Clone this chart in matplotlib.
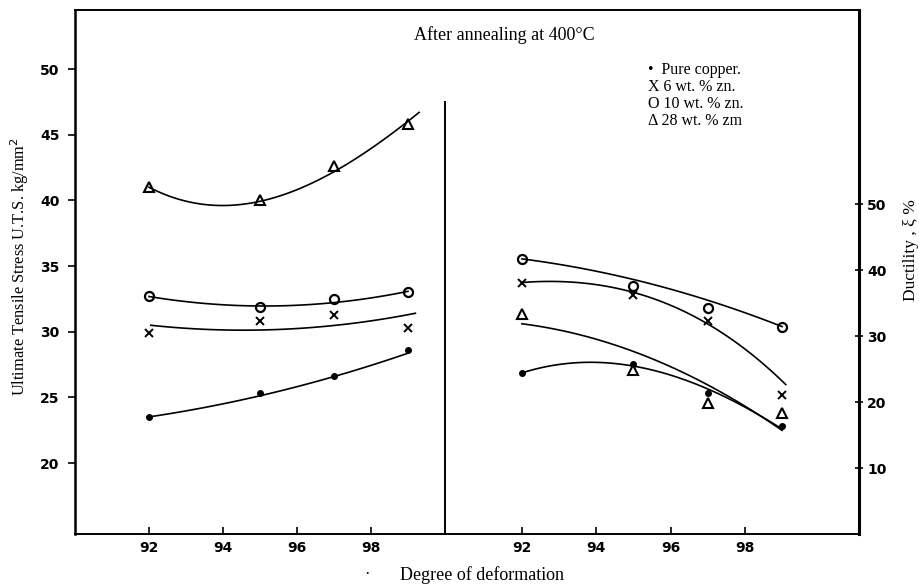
import numpy as np
import matplotlib
matplotlib.use("Agg")
import matplotlib.pyplot as plt

plt.rcParams['font.family'] = ['Liberation Serif', 'DejaVu Serif']

# left panel: U.T.S. (kg/mm^2) vs degree of deformation
deform = [92, 95, 97, 99]
uts_cu = [23.5, 25.3, 26.6, 28.6]
uts_zn6 = [29.9, 30.8, 31.3, 30.3]
uts_zn10 = [32.7, 31.9, 32.5, 33.05]
uts_zn28 = [41.0, 40.0, 42.6, 45.8]

# hand drawn fit lines
uts_fit_cu_x = [92, 95, 97, 99]
uts_fit_cu_y = [23.5, 25.2, 26.5, 28.4]
uts_fit_zn6_x = [92.05, 94.5, 97, 99.2]
uts_fit_zn6_y = [30.5, 30.1, 30.5, 31.4]
uts_fit_zn10_x = [92, 94, 95, 97, 99]
uts_fit_zn10_y = [32.7, 32.05, 31.9, 32.3, 33.05]
uts_fit_zn28_x = [92, 93.8, 95, 97, 99.3]
uts_fit_zn28_y = [41.0, 39.65, 39.9, 42.2, 46.7]

# right panel: ductility (%)
duc_cu = [24.4, 25.8, 21.3, 16.4]
duc_zn6 = [38.0, 36.2, 32.2, 21.1]
duc_zn10 = [41.7, 37.6, 34.2, 31.4]
duc_zn28 = [33.4, 24.8, 19.8, 18.3]

duc_fit_cu_x = [92, 93.5, 95, 97, 99]
duc_fit_cu_y = [24.4, 26.0, 25.4, 22.0, 15.9]
duc_fit_zn6_x = [92, 93.2, 95, 97, 99.1]
duc_fit_zn6_y = [38.0, 38.5, 36.3, 32.0, 22.6]
duc_fit_zn10_x = [92, 95, 97, 99]
duc_fit_zn10_y = [41.7, 38.5, 35.5, 31.4]
duc_fit_zn28_x = [92, 95, 97, 99]
duc_fit_zn28_y = [31.8, 27.9, 22.3, 15.8]

x_ticks = [92, 94, 96, 98]
uts_ticks = [20, 25, 30, 35, 40, 45, 50]
duc_ticks = [10, 20, 30, 40, 50]

legend_lines = ["\u2022  Pure copper.", "X 6 wt. % zn.", "O 10 wt. % zn.", "\u0394 28 wt. % zm"]


def smooth(ax, xs, ys, deg):
    c = np.polyfit(xs, ys, deg)
    xx = np.linspace(xs[0], xs[-1], 100)
    ax.plot(xx, np.polyval(c, xx), color='black', lw=1.2)


def marks(ax, x, cu, z6, z10, z28):
    ax.plot(x, cu, 'o', color='black', ms=4, clip_on=False)
    ax.plot(x, z6, 'x', color='black', ms=5.5, mew=1.4)
    ax.plot(x, z10, 'o', mfc='white', mec='black', ms=6.5, mew=1.6)
    ax.plot(x, z28, '^', mfc='white', mec='black', ms=6.5, mew=1.5)


W, H = 920, 588
fig = plt.figure(figsize=(9.2, 5.88), dpi=100)
axl = fig.add_axes([75 / W, 1 - 534 / H, 370 / W, 524 / H])
axr = fig.add_axes([445 / W, 1 - 534 / H, 414 / W, 524 / H])

tickfont = matplotlib.font_manager.FontProperties(family='DejaVu Sans', weight='bold', size=10)

# left
marks(axl, deform, uts_cu, uts_zn6, uts_zn10, uts_zn28)
smooth(axl, uts_fit_cu_x, uts_fit_cu_y, 2)
smooth(axl, uts_fit_zn6_x, uts_fit_zn6_y, 2)
smooth(axl, uts_fit_zn10_x, uts_fit_zn10_y, 2)
smooth(axl, uts_fit_zn28_x, uts_fit_zn28_y, 3)
axl.set_xlim(90, 100)
axl.set_ylim(14.6, 54.5)
axl.set_xticks(x_ticks)
axl.set_yticks(uts_ticks)
axl.spines['right'].set_visible(False)
axl.tick_params(axis='y', direction='out', length=5, width=1.2, pad=6)
axl.tick_params(axis='x', direction='in', length=5, width=1.2, pad=5)
for lab in axl.get_xticklabels() + axl.get_yticklabels():
    lab.set_fontproperties(tickfont)

# right
marks(axr, deform, duc_cu, duc_zn6, duc_zn10, duc_zn28)
smooth(axr, duc_fit_cu_x, duc_fit_cu_y, 3)
smooth(axr, duc_fit_zn6_x, duc_fit_zn6_y, 3)
smooth(axr, duc_fit_zn10_x, duc_fit_zn10_y, 2)
smooth(axr, duc_fit_zn28_x, duc_fit_zn28_y, 2)
axr.set_xlim(89.93, 101.07)
axr.set_ylim(0, 79.4)
axr.set_xticks(x_ticks)
axr.set_yticks(duc_ticks)
axr.yaxis.tick_right()
axr.spines['left'].set_bounds(0, 65.5)
axr.tick_params(axis='y', direction='inout', length=6, width=1.2, pad=3)
axr.tick_params(axis='x', direction='in', length=5, width=1.2, pad=5)
for lab in axr.get_xticklabels() + axr.get_yticklabels():
    lab.set_fontproperties(tickfont)

for ax in (axl, axr):
    for s in ax.spines.values():
        s.set_linewidth(1.4)
axr.spines['right'].set_linewidth(2.2)
axl.spines['left'].set_linewidth(1.8)

fig.text(504 / W, 1 - 35 / H, "After annealing at 400\u00b0C", ha='center', va='center', fontsize=13)
for i, t in enumerate(legend_lines):
    fig.text(648 / W, 1 - (70 + 17 * i) / H, t, ha='left', va='center', fontsize=11.5)

fig.text(20 / W, 1 - 267 / H, "Ultimate Tensile Stress U.T.S. kg/mm$^2$", rotation=90,
         ha='center', va='center', fontsize=11.8)
fig.text(911 / W, 1 - 250 / H, "Ductility , \u03be %", rotation=90, ha='center', va='center', fontsize=12.5)
fig.text(482 / W, 1 - 575 / H, "Degree of deformation", ha='center', va='center', fontsize=13)
fig.text(367 / W, 1 - 575 / H, "\u00b7", ha='center', va='center', fontsize=12)

fig.savefig("out.png", dpi=100)
